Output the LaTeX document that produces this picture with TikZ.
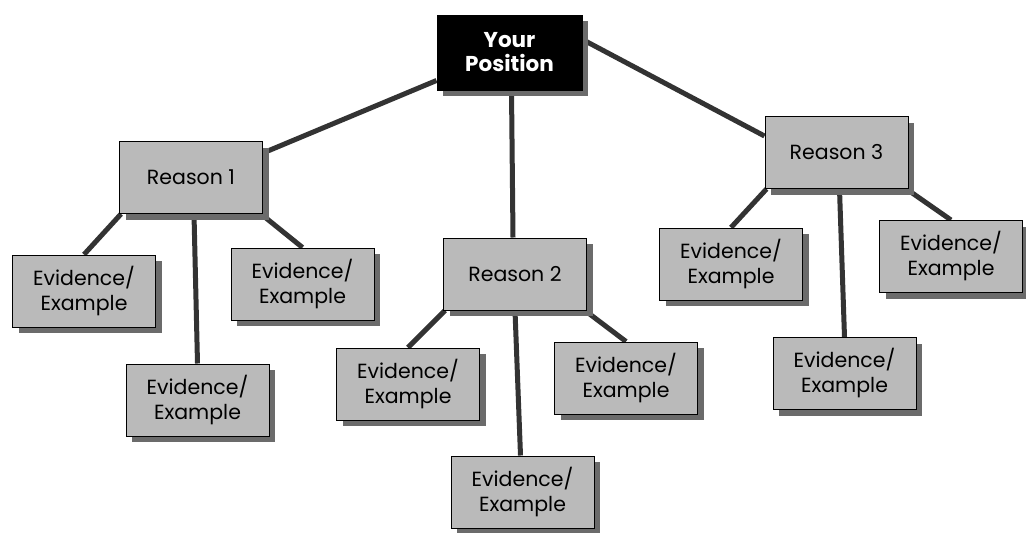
\documentclass[tikz,border=0pt]{standalone}
\usepackage{fontspec}
\setmainfont{Poppins}
\usetikzlibrary{shadows}
\pgfdeclarelayer{bg}
\pgfsetlayers{bg,main}
\begin{document}
\begin{tikzpicture}[x=1pt,y=-1pt,
  box/.style={draw=black, line width=1pt, fill=black!27,
    minimum width=143pt, minimum height=72pt, inner sep=0pt, align=center,
    font=\fontsize{20.5}{25}\selectfont,
    drop shadow={shadow xshift=6pt, shadow yshift=-6pt, fill=black!58, opacity=1}},
  topbox/.style={box, fill=black, text=white, minimum width=145pt, minimum height=75pt,
    font=\fontsize{21.5}{24}\selectfont\bfseries},
  link/.style={line width=5pt, draw=black!80}]
\useasboundingbox (0,0) rectangle (1026,533);
% nodes
\node[topbox] (yp) at (509.5,52.5) {Your\\Position};
\node[box] (r1) at (191,177.5) {Reason 1};
\node[box] (r2) at (515,274) {Reason 2};
\node[box] (r3) at (836.5,152.5) {Reason 3};
\node[box] (e11) at (84,291) {Evidence/\\Example};
\node[box] (e12) at (302.5,284) {Evidence/\\Example};
\node[box] (e13) at (197.5,400) {Evidence/\\Example};
\node[box] (e21) at (408,384) {Evidence/\\Example};
\node[box] (e22) at (522.5,492) {Evidence/\\Example};
\node[box] (e23) at (626,378) {Evidence/\\Example};
\node[box] (e31) at (731,264) {Evidence/\\Example};
\node[box] (e32) at (844.5,373.5) {Evidence/\\Example};
\node[box] (e33) at (951,256.5) {Evidence/\\Example};
% connectors
\begin{pgfonlayer}{bg}
\draw[link] ([yshift=-12pt]r1.north east) -- ([yshift=10pt]yp.south west);
\draw[link] ([xshift=2pt]yp.south) -- ([xshift=-2pt]r2.north);
\draw[link] ([yshift=-25pt]yp.north east) -- ([yshift=-20pt]r3.north west);
\draw[link] ([xshift=2pt]r1.south west) -- (e11.north);
\draw[link] ([xshift=3pt]r1.south) -- (e13.north);
\draw[link] ([xshift=-2pt]r1.south east) -- (e12.north);
\draw[link] ([xshift=2pt]r2.south west) -- (e21.north);
\draw[link] (r2.south) -- ([xshift=-2pt]e22.north);
\draw[link] ([xshift=-2pt]r2.south east) -- (e23.north);
\draw[link] ([xshift=2pt]r3.south west) -- (e31.north);
\draw[link] ([xshift=3pt]r3.south) -- (e32.north);
\draw[link] ([xshift=-2pt]r3.south east) -- (e33.north);
\end{pgfonlayer}
\end{tikzpicture}
\end{document}
